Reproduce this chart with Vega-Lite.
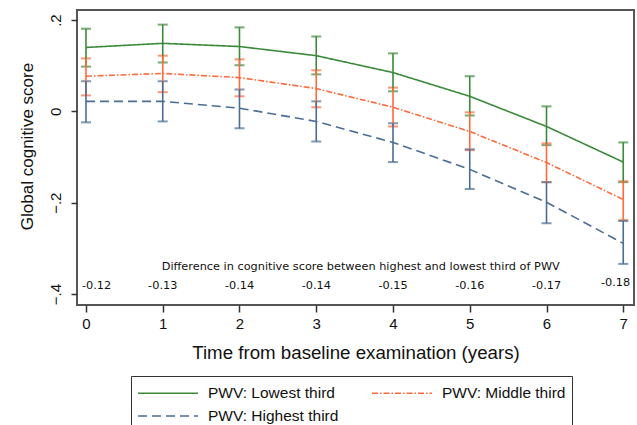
{
  "$schema": "https://vega.github.io/schema/vega-lite/v6.json",
  "width": 557,
  "height": 295,
  "autosize": {"type": "none"},
  "padding": {"left": 77, "top": 10, "right": 3, "bottom": 120},
  "background": "white",
  "config": {
    "view": {"stroke": "#555555", "strokeWidth": 2},
    "font": "Liberation Sans",
    "axis": {"grid": false, "domain": false, "tickColor": "#333", "labelColor": "#111", "titleColor": "#111"}
  },
  "datasets": {
    "est": [
      {"group": "PWV: Lowest third", "t": 0, "est": 0.140, "lo": 0.098, "hi": 0.181},
      {"group": "PWV: Lowest third", "t": 1, "est": 0.149, "lo": 0.107, "hi": 0.190},
      {"group": "PWV: Lowest third", "t": 2, "est": 0.142, "lo": 0.101, "hi": 0.184},
      {"group": "PWV: Lowest third", "t": 3, "est": 0.122, "lo": 0.081, "hi": 0.164},
      {"group": "PWV: Lowest third", "t": 4, "est": 0.085, "lo": 0.044, "hi": 0.127},
      {"group": "PWV: Lowest third", "t": 5, "est": 0.033, "lo": -0.009, "hi": 0.077},
      {"group": "PWV: Lowest third", "t": 6, "est": -0.033, "lo": -0.074, "hi": 0.011},
      {"group": "PWV: Lowest third", "t": 7, "est": -0.111, "lo": -0.155, "hi": -0.068},
      {"group": "PWV: Middle third", "t": 0, "est": 0.077, "lo": 0.035, "hi": 0.116},
      {"group": "PWV: Middle third", "t": 1, "est": 0.083, "lo": 0.042, "hi": 0.122},
      {"group": "PWV: Middle third", "t": 2, "est": 0.074, "lo": 0.033, "hi": 0.114},
      {"group": "PWV: Middle third", "t": 3, "est": 0.050, "lo": 0.009, "hi": 0.090},
      {"group": "PWV: Middle third", "t": 4, "est": 0.009, "lo": -0.033, "hi": 0.052},
      {"group": "PWV: Middle third", "t": 5, "est": -0.044, "lo": -0.085, "hi": -0.002},
      {"group": "PWV: Middle third", "t": 6, "est": -0.112, "lo": -0.155, "hi": -0.070},
      {"group": "PWV: Middle third", "t": 7, "est": -0.193, "lo": -0.238, "hi": -0.153},
      {"group": "PWV: Highest third", "t": 0, "est": 0.022, "lo": -0.024, "hi": 0.066},
      {"group": "PWV: Highest third", "t": 1, "est": 0.022, "lo": -0.022, "hi": 0.066},
      {"group": "PWV: Highest third", "t": 2, "est": 0.007, "lo": -0.037, "hi": 0.048},
      {"group": "PWV: Highest third", "t": 3, "est": -0.022, "lo": -0.066, "hi": 0.022},
      {"group": "PWV: Highest third", "t": 4, "est": -0.068, "lo": -0.111, "hi": -0.026},
      {"group": "PWV: Highest third", "t": 5, "est": -0.127, "lo": -0.170, "hi": -0.083},
      {"group": "PWV: Highest third", "t": 6, "est": -0.199, "lo": -0.245, "hi": -0.155},
      {"group": "PWV: Highest third", "t": 7, "est": -0.289, "lo": -0.334, "hi": -0.240}
    ],
    "diff": [
      {"t": 0, "diff": "-0.12"},
      {"t": 1, "diff": "-0.13"},
      {"t": 2, "diff": "-0.14"},
      {"t": 3, "diff": "-0.14"},
      {"t": 4, "diff": "-0.15"},
      {"t": 5, "diff": "-0.16"},
      {"t": 6, "diff": "-0.17"},
      {"t": 7, "diff": "-0.18"}
    ]
  },
  "layer": [
    {
      "data": {"name": "est"},
      "mark": {"type": "line", "strokeWidth": 1.6},
      "encoding": {
        "x": {
          "field": "t", "type": "quantitative",
          "scale": {"domain": [-0.117, 7.14], "nice": false, "zero": false},
          "axis": {"values": [0, 1, 2, 3, 4, 5, 6, 7], "format": "d", "title": "Time from baseline examination (years)", "labelFontSize": 15, "labelPadding": 4, "tickSize": 7, "tickWidth": 1.5, "titleFontSize": 18.7, "titleFontWeight": "normal", "titlePadding": 12}
        },
        "y": {
          "field": "est", "type": "quantitative", "title": "Global cognitive score",
          "scale": {"domain": [-0.424, 0.222], "nice": false, "zero": false},
          "axis": {"values": [0.2, 0, -0.2, -0.4], "labelExpr": "datum.value == 0 ? '0' : replace(format(datum.value, '.1f'), '0.', '.')", "labelAngle": -90, "labelAlign": "center", "labelBaseline": "bottom", "labelFontSize": 15, "labelPadding": 8, "tickSize": 6, "tickWidth": 1.5, "titleFontSize": 17, "titleFontWeight": "normal", "titlePadding": 12, "titleY": 136}
        },
        "color": {
          "field": "group", "type": "nominal",
          "scale": {"domain": ["PWV: Lowest third", "PWV: Middle third", "PWV: Highest third"], "range": ["#3a8a3a", "#ff6a3d", "#4a6d96"]},
          "legend": {
            "title": null, "orient": "none", "legendX": 54, "legendY": 366, "direction": "horizontal", "columns": 2,
            "symbolType": "M-1,0H5", "symbolSize": 400, "symbolStrokeWidth": 1.6, "symbolFillColor": "transparent",
            "labelFontSize": 15.5, "labelColor": "#111",
            "labelOffset": 49, "columnPadding": 29, "rowPadding": 3, "padding": 6, "strokeColor": "#333", "gridAlign": "all"
          }
        },
        "strokeDash": {
          "field": "group", "type": "nominal",
          "scale": {"domain": ["PWV: Lowest third", "PWV: Middle third", "PWV: Highest third"], "range": [[1, 0], [6, 2, 1.5, 2], [9, 5]]},
          "legend": null
        }
      }
    },
    {
      "data": {"name": "est"},
      "mark": {"type": "errorbar", "ticks": {"size": 10, "thickness": 2}, "thickness": 1.6},
      "encoding": {
        "x": {"field": "t", "type": "quantitative"},
        "y": {"field": "lo", "type": "quantitative", "title": "Global cognitive score"},
        "y2": {"field": "hi"},
        "color": {"field": "group", "type": "nominal", "legend": null}
      }
    },
    {
      "data": {"values": [{"label": "Difference in cognitive score between highest and lowest third of PWV"}]},
      "mark": {"type": "text", "font": "DejaVu Sans", "fontSize": 11.3, "color": "#111", "align": "center", "baseline": "middle"},
      "encoding": {
        "x": {"datum": 3.58, "type": "quantitative"},
        "y": {"datum": -0.341, "type": "quantitative"},
        "text": {"field": "label"}
      }
    },
    {
      "data": {"name": "diff"},
      "transform": [{"filter": "datum.t > 0 && datum.t < 7"}],
      "mark": {"type": "text", "font": "DejaVu Sans", "fontSize": 11.3, "color": "#111", "align": "center", "baseline": "middle"},
      "encoding": {
        "x": {"field": "t", "type": "quantitative"},
        "y": {"datum": -0.383, "type": "quantitative"},
        "text": {"field": "diff"}
      }
    },
    {
      "data": {"name": "diff"},
      "transform": [{"filter": "datum.t == 0"}],
      "mark": {"type": "text", "font": "DejaVu Sans", "fontSize": 11.3, "color": "#111", "align": "left", "baseline": "middle", "dx": -4},
      "encoding": {
        "x": {"field": "t", "type": "quantitative"},
        "y": {"datum": -0.383, "type": "quantitative"},
        "text": {"field": "diff"}
      }
    },
    {
      "data": {"name": "diff"},
      "transform": [{"filter": "datum.t == 7"}],
      "mark": {"type": "text", "font": "DejaVu Sans", "fontSize": 11.3, "color": "#111", "align": "right", "baseline": "middle", "dx": 7},
      "encoding": {
        "x": {"field": "t", "type": "quantitative"},
        "y": {"datum": -0.376, "type": "quantitative"},
        "text": {"field": "diff"}
      }
    }
  ]
}
